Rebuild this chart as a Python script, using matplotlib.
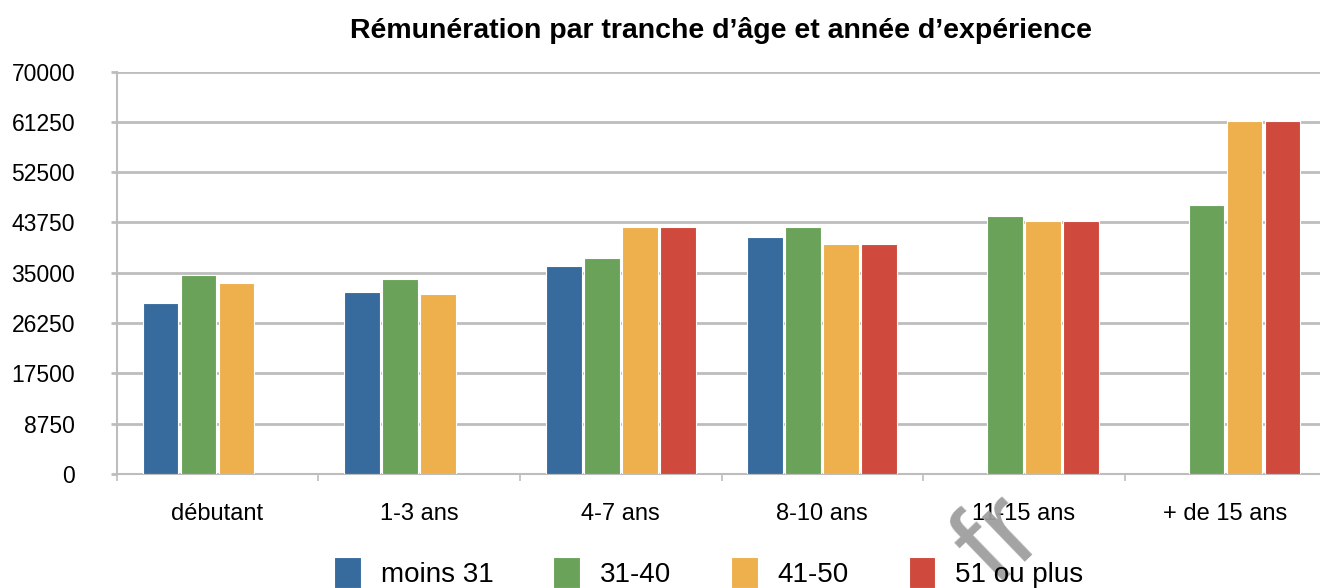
import numpy as np
import matplotlib
matplotlib.use('Agg')
import matplotlib.pyplot as plt

plt.rcParams['font.family'] = ['Liberation Sans', 'DejaVu Sans']

# données
categories = ['débutant', '1-3 ans', '4-7 ans', '8-10 ans', '11-15 ans', '+ de 15 ans']
series_names = ['moins 31', '31-40', '41-50', '51 ou plus']
moins_31 = [29800, 31650, 36200, 41150, np.nan, np.nan]
age_31_40 = [34650, 33900, 37650, 43000, 44850, 46700]
age_41_50 = [33200, 31300, 42950, 39950, 44050, 61400]
age_51_plus = [np.nan, np.nan, 42950, 39950, 44050, 61400]
y_ticks = [0, 8750, 17500, 26250, 35000, 43750, 52500, 61250, 70000]

colors = ['#386b9d', '#6aa25a', '#eeaf4d', '#cf4a3d']
grid_grey = '#bdbdbd'

fig = plt.figure(figsize=(13.2, 5.88), dpi=100)
ax = fig.add_axes([0.0884, 0.1939, 0.9164, 0.6845])

x = np.arange(len(categories))
step = 0.1885
width = 0.178
all_series = [moins_31, age_31_40, age_41_50, age_51_plus]
for i, (vals, name, col) in enumerate(zip(all_series, series_names, colors)):
    ax.bar(x + (i - 1.5) * step, vals, width, color=col, label=name,
           edgecolor='white', linewidth=0.8, zorder=3)

ax.set_xlim(-0.5, len(categories) - 0.5)
ax.set_ylim(0, 70000)
ax.set_yticks(y_ticks)
ax.set_yticklabels([str(v) for v in y_ticks])
ax.yaxis.grid(True, color=grid_grey, linewidth=2, zorder=0)

# ticks de séparation entre catégories, étiquettes au centre
ax.set_xticks(np.arange(-0.5, len(categories)), labels=[''] * (len(categories) + 1))
ax.set_xticks(x, labels=categories, minor=True)
ax.tick_params(axis='x', which='major', length=5, width=1.2, color=grid_grey)
ax.tick_params(axis='x', which='minor', length=0, pad=21, labelsize=17)
ax.tick_params(axis='y', length=4, width=2, color=grid_grey, pad=26, labelsize=16.5)

for side in ['top', 'right']:
    ax.spines[side].set_visible(False)
for side in ['left', 'bottom']:
    ax.spines[side].set_color(grid_grey)
    ax.spines[side].set_linewidth(1.5)

fig.text(0.546, 0.948, 'Rémunération par tranche d\u2019âge et année d\u2019expérience',
         ha='center', va='center', fontsize=20.5, fontweight='bold')

fig.legend(loc='center', bbox_to_anchor=(0.537, 0.026), ncol=4, frameon=False,
           fontsize=20, handlelength=0.96, handleheight=1.3, handletextpad=0.72,
           columnspacing=2.15)

# filigrane partiellement visible
fig.text(0.758, 0.08, 'fr', rotation=44, ha='center', va='center',
         fontsize=84, color='#9e9e9e', alpha=0.95)

fig.savefig('out.png', dpi=100)
